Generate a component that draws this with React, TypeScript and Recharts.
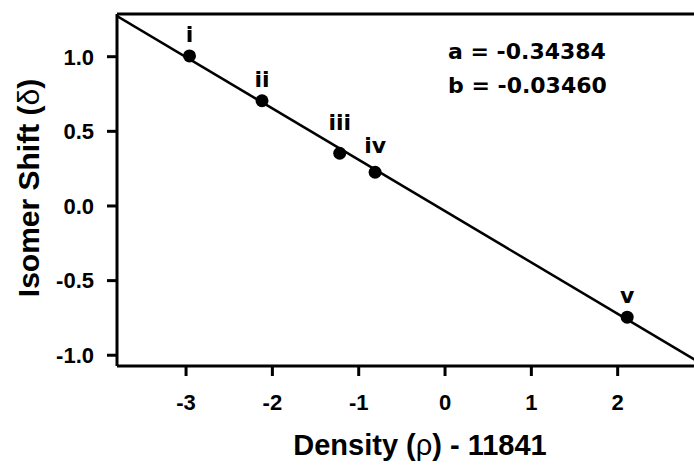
import {
  ComposedChart,
  Scatter,
  Line,
  XAxis,
  YAxis,
  ReferenceLine,
} from "recharts";

// Samples i–v: density offset from 11841 vs isomer shift
const sampleNames = ["i", "ii", "iii", "iv", "v"];
const densityOffsets = [-2.96, -2.12, -1.22, -0.81, 2.11];
const isomerShifts = [1.005, 0.705, 0.353, 0.226, -0.745];

// Linear fit: shift = a * density + b
const fitA = -0.34384;
const fitB = -0.0346;

const xTicks = [-3, -2, -1, 0, 1, 2];
const yTicks = [1.0, 0.5, 0.0, -0.5, -1.0];
const xDomain: [number, number] = [-3.8, 3.0];
const yDomain: [number, number] = [-1.072, 1.286];

const points = sampleNames.map((name, i) => ({
  name,
  x: densityOffsets[i],
  y: isomerShifts[i],
}));

const fitLine = xDomain.map((x) => ({ x, y: fitA * x + fitB }));

const AXIS_FONT = "'Liberation Sans', Arial, sans-serif";
const NOTE_FONT = "'DejaVu Sans', Verdana, sans-serif";

// extra lift for labels that sit close together
const labelRaise: Record<string, number> = { iii: 9, iv: 5 };

function PointMark(props: any) {
  const { cx, cy, payload } = props;
  const lift = 14 + (labelRaise[payload.name] ?? 0);
  return (
    <g>
      <circle cx={cx} cy={cy} r={6.5} fill="#000" />
      <text
        x={cx}
        y={cy - lift}
        textAnchor="middle"
        fontFamily={NOTE_FONT}
        fontWeight="bold"
        fontSize={22}
        fill="#000"
      >
        {payload.name}
      </text>
    </g>
  );
}

const tickStyle = {
  fontFamily: AXIS_FONT,
  fontSize: 22,
  fontWeight: "bold",
  fill: "#000",
};

export default function App() {
  return (
    <div
      style={{
        position: "absolute",
        left: 0,
        top: 0,
        width: 694,
        height: 465,
        overflow: "hidden",
        background: "#fff",
      }}
    >
      <ComposedChart
        width={720}
        height={465}
        margin={{ top: 14, right: 16, bottom: 0, left: 0 }}
      >
        <XAxis
          type="number"
          dataKey="x"
          domain={xDomain}
          ticks={xTicks}
          allowDataOverflow
          height={99}
          tickSize={10}
          tickMargin={18}
          tick={tickStyle}
          axisLine={{ stroke: "#000", strokeWidth: 3 }}
          tickLine={{ stroke: "#000", strokeWidth: 3 }}
        />
        <YAxis
          type="number"
          dataKey="y"
          domain={yDomain}
          ticks={yTicks}
          allowDataOverflow
          width={117}
          tickSize={10}
          tickMargin={13}
          tick={tickStyle}
          tickFormatter={(v: number) => v.toFixed(1)}
          axisLine={{ stroke: "#000", strokeWidth: 3 }}
          tickLine={{ stroke: "#000", strokeWidth: 3 }}
        />
        <ReferenceLine y={yDomain[1]} stroke="#000" strokeWidth={3} />
        <Line
          data={fitLine}
          dataKey="y"
          type="linear"
          stroke="#000"
          strokeWidth={2.5}
          dot={false}
          activeDot={false}
          isAnimationActive={false}
        />
        <Scatter
          data={points}
          dataKey="y"
          fill="#000"
          shape={PointMark}
          isAnimationActive={false}
        />
        <text
          x={448}
          y={59}
          fontFamily={NOTE_FONT}
          fontWeight="bold"
          fontSize={22}
          fill="#000"
        >
          {`a = ${fitA.toFixed(5)}`}
        </text>
        <text
          x={448}
          y={93}
          fontFamily={NOTE_FONT}
          fontWeight="bold"
          fontSize={22}
          fill="#000"
        >
          {`b = ${fitB.toFixed(5)}`}
        </text>
        <text
          x={39}
          y={188}
          transform="rotate(-90 39 188)"
          textAnchor="middle"
          fontFamily={AXIS_FONT}
          fontWeight="bold"
          fontSize={30}
          fill="#000"
        >
          Isomer Shift (<tspan fontWeight="normal">δ</tspan>)
        </text>
        <text
          x={420}
          y={455}
          textAnchor="middle"
          fontFamily={AXIS_FONT}
          fontWeight="bold"
          fontSize={29}
          fill="#000"
        >
          Density (<tspan fontWeight="normal">ρ</tspan>) - 11841
        </text>
      </ComposedChart>
    </div>
  );
}
